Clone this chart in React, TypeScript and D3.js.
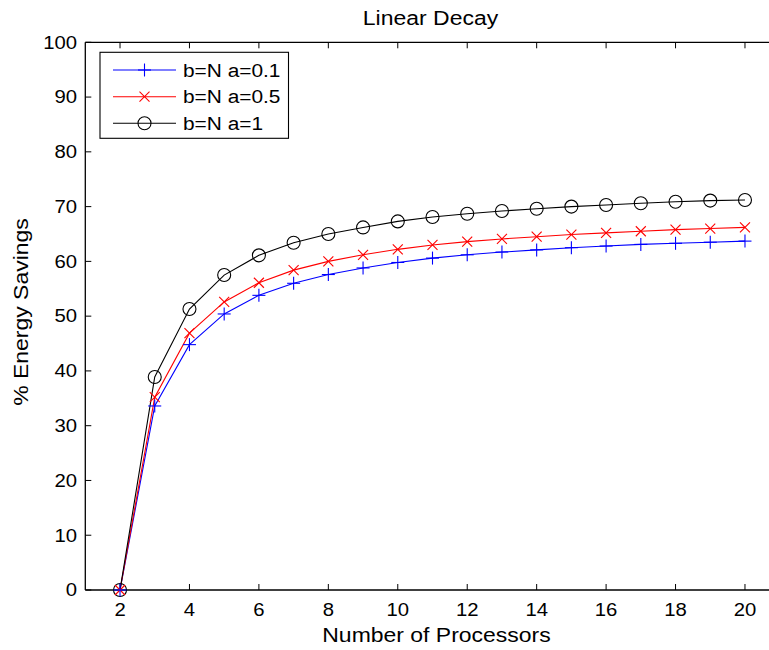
import React from "react";
import * as d3 from "d3";

const processors = [2, 3, 4, 5, 6, 7, 8, 9, 10, 11, 12, 13, 14, 15, 16, 17, 18, 19, 20];
const seriesA01 = [0, 33.6, 44.8, 50.4, 53.8, 56.0, 57.6, 58.8, 59.8, 60.6, 61.2, 61.7, 62.1, 62.5, 62.8, 63.1, 63.3, 63.5, 63.7];
const seriesA05 = [0, 35.2, 46.9, 52.6, 56.1, 58.4, 60.0, 61.2, 62.2, 63.0, 63.6, 64.1, 64.5, 64.9, 65.2, 65.5, 65.8, 66.0, 66.2];
const seriesA1 = [0, 38.9, 51.3, 57.5, 61.1, 63.4, 65.0, 66.2, 67.3, 68.1, 68.7, 69.2, 69.6, 70.0, 70.3, 70.6, 70.9, 71.1, 71.2];
const seriesNames = ["b=N a=0.1", "b=N a=0.5", "b=N a=1"];
const seriesColors = ["#0000ff", "#ff0000", "#000000"];
const xTicks = [2, 4, 6, 8, 10, 12, 14, 16, 18, 20];
const yTicks = [0, 10, 20, 30, 40, 50, 60, 70, 80, 90, 100];

const FONT = "'Liberation Sans', Arial, Helvetica, sans-serif";
const SX = 1.16;

function SText({ x, y, anchor = "start", size = 17.5, rotate = 0, children }: any) {
  const t = rotate
    ? `translate(${x},${y}) rotate(${rotate}) scale(${SX},1)`
    : `translate(${x},${y}) scale(${SX},1)`;
  return (
    <text transform={t} textAnchor={anchor} fontFamily={FONT} fontSize={size} fill="#000">
      {children}
    </text>
  );
}

function Marker({ kind, x, y, color }: any) {
  if (kind === 0) {
    const s = 6.5;
    return (
      <g stroke={color} strokeWidth={1.1}>
        <line x1={x - s} x2={x + s} y1={y} y2={y} />
        <line x1={x} x2={x} y1={y - s} y2={y + s} />
      </g>
    );
  }
  if (kind === 1) {
    const s = 5;
    return (
      <g stroke={color} strokeWidth={1.1}>
        <line x1={x - s} x2={x + s} y1={y - s} y2={y + s} />
        <line x1={x - s} x2={x + s} y1={y + s} y2={y - s} />
      </g>
    );
  }
  return <circle cx={x} cy={y} r={6.5} fill="none" stroke={color} strokeWidth={1.1} />;
}

export default function App() {
  const W = 769, H = 650;
  const left = 85.3, top = 42.3, bottom = 590;
  const x = d3.scaleLinear().domain([1, 21]).range([left, left + 20 * 34.72]);
  const y = d3.scaleLinear().domain([0, 100]).range([bottom, top]);
  const right = x(21);
  const data = [seriesA01, seriesA05, seriesA1];
  const line = d3.line<number>().x((_, i) => x(processors[i])).y((v) => y(v));
  const tick = 6;
  const legY = [70, 96.7, 123.3];
  const labelSize = 19.8;

  return (
    <svg width={W} height={H} style={{ display: "block", position: "absolute", left: 0, top: 0 }}>
      <rect width={W} height={H} fill="#fff" />
      {/* axes box */}
      <g stroke="#000" strokeWidth={1.3} fill="none">
        <line x1={left} x2={right} y1={bottom} y2={bottom} />
        <line x1={left} x2={right} y1={top} y2={top} />
        <line x1={left} x2={left} y1={top} y2={bottom} />
        <line x1={right} x2={right} y1={top} y2={bottom} />
      </g>
      <g stroke="#000" strokeWidth={1}>
        {xTicks.map((t) => (
          <g key={t}>
            <line x1={x(t)} x2={x(t)} y1={bottom} y2={bottom - tick} />
            <line x1={x(t)} x2={x(t)} y1={top} y2={top + tick} />
          </g>
        ))}
        {yTicks.map((t) => (
          <g key={t}>
            <line x1={left} x2={left + tick} y1={y(t)} y2={y(t)} />
            <line x1={right} x2={right - tick} y1={y(t)} y2={y(t)} />
          </g>
        ))}
      </g>
      {xTicks.map((t) => (
        <SText key={t} x={x(t)} y={616} anchor="middle">{t}</SText>
      ))}
      {yTicks.map((t) => (
        <SText key={t} x={77} y={y(t) + 6.3} anchor="end">{t}</SText>
      ))}
      <SText x={430.5} y={25} anchor="middle" size={labelSize}>Linear Decay</SText>
      <SText x={436.5} y={642} anchor="middle" size={labelSize}>Number of Processors</SText>
      <SText x={28} y={312} anchor="middle" rotate={-90} size={labelSize}>% Energy Savings</SText>

      {/* series */}
      {data.map((s, k) => (
        <g key={k}>
          <path d={line(s) || ""} fill="none" stroke={seriesColors[k]} strokeWidth={1.1} />
        </g>
      ))}
      {[2, 1, 0].map((k) => (
        <g key={"m" + k}>
          {data[k].map((v, i) => (
            <Marker key={i} kind={k} x={x(processors[i])} y={y(v)} color={seriesColors[k]} />
          ))}
        </g>
      ))}

      {/* legend */}
      <rect x={100} y={52.3} width={188.5} height={86} fill="#fff" stroke="#000" strokeWidth={1.1} />
      {seriesNames.map((n, k) => (
        <g key={n}>
          <line x1={113} x2={176} y1={legY[k]} y2={legY[k]} stroke={seriesColors[k]} strokeWidth={1.1} />
          <Marker kind={k} x={144.5} y={legY[k]} color={seriesColors[k]} />
          <SText x={183} y={legY[k] + 6.5} size={18}>{n}</SText>
        </g>
      ))}
    </svg>
  );
}
